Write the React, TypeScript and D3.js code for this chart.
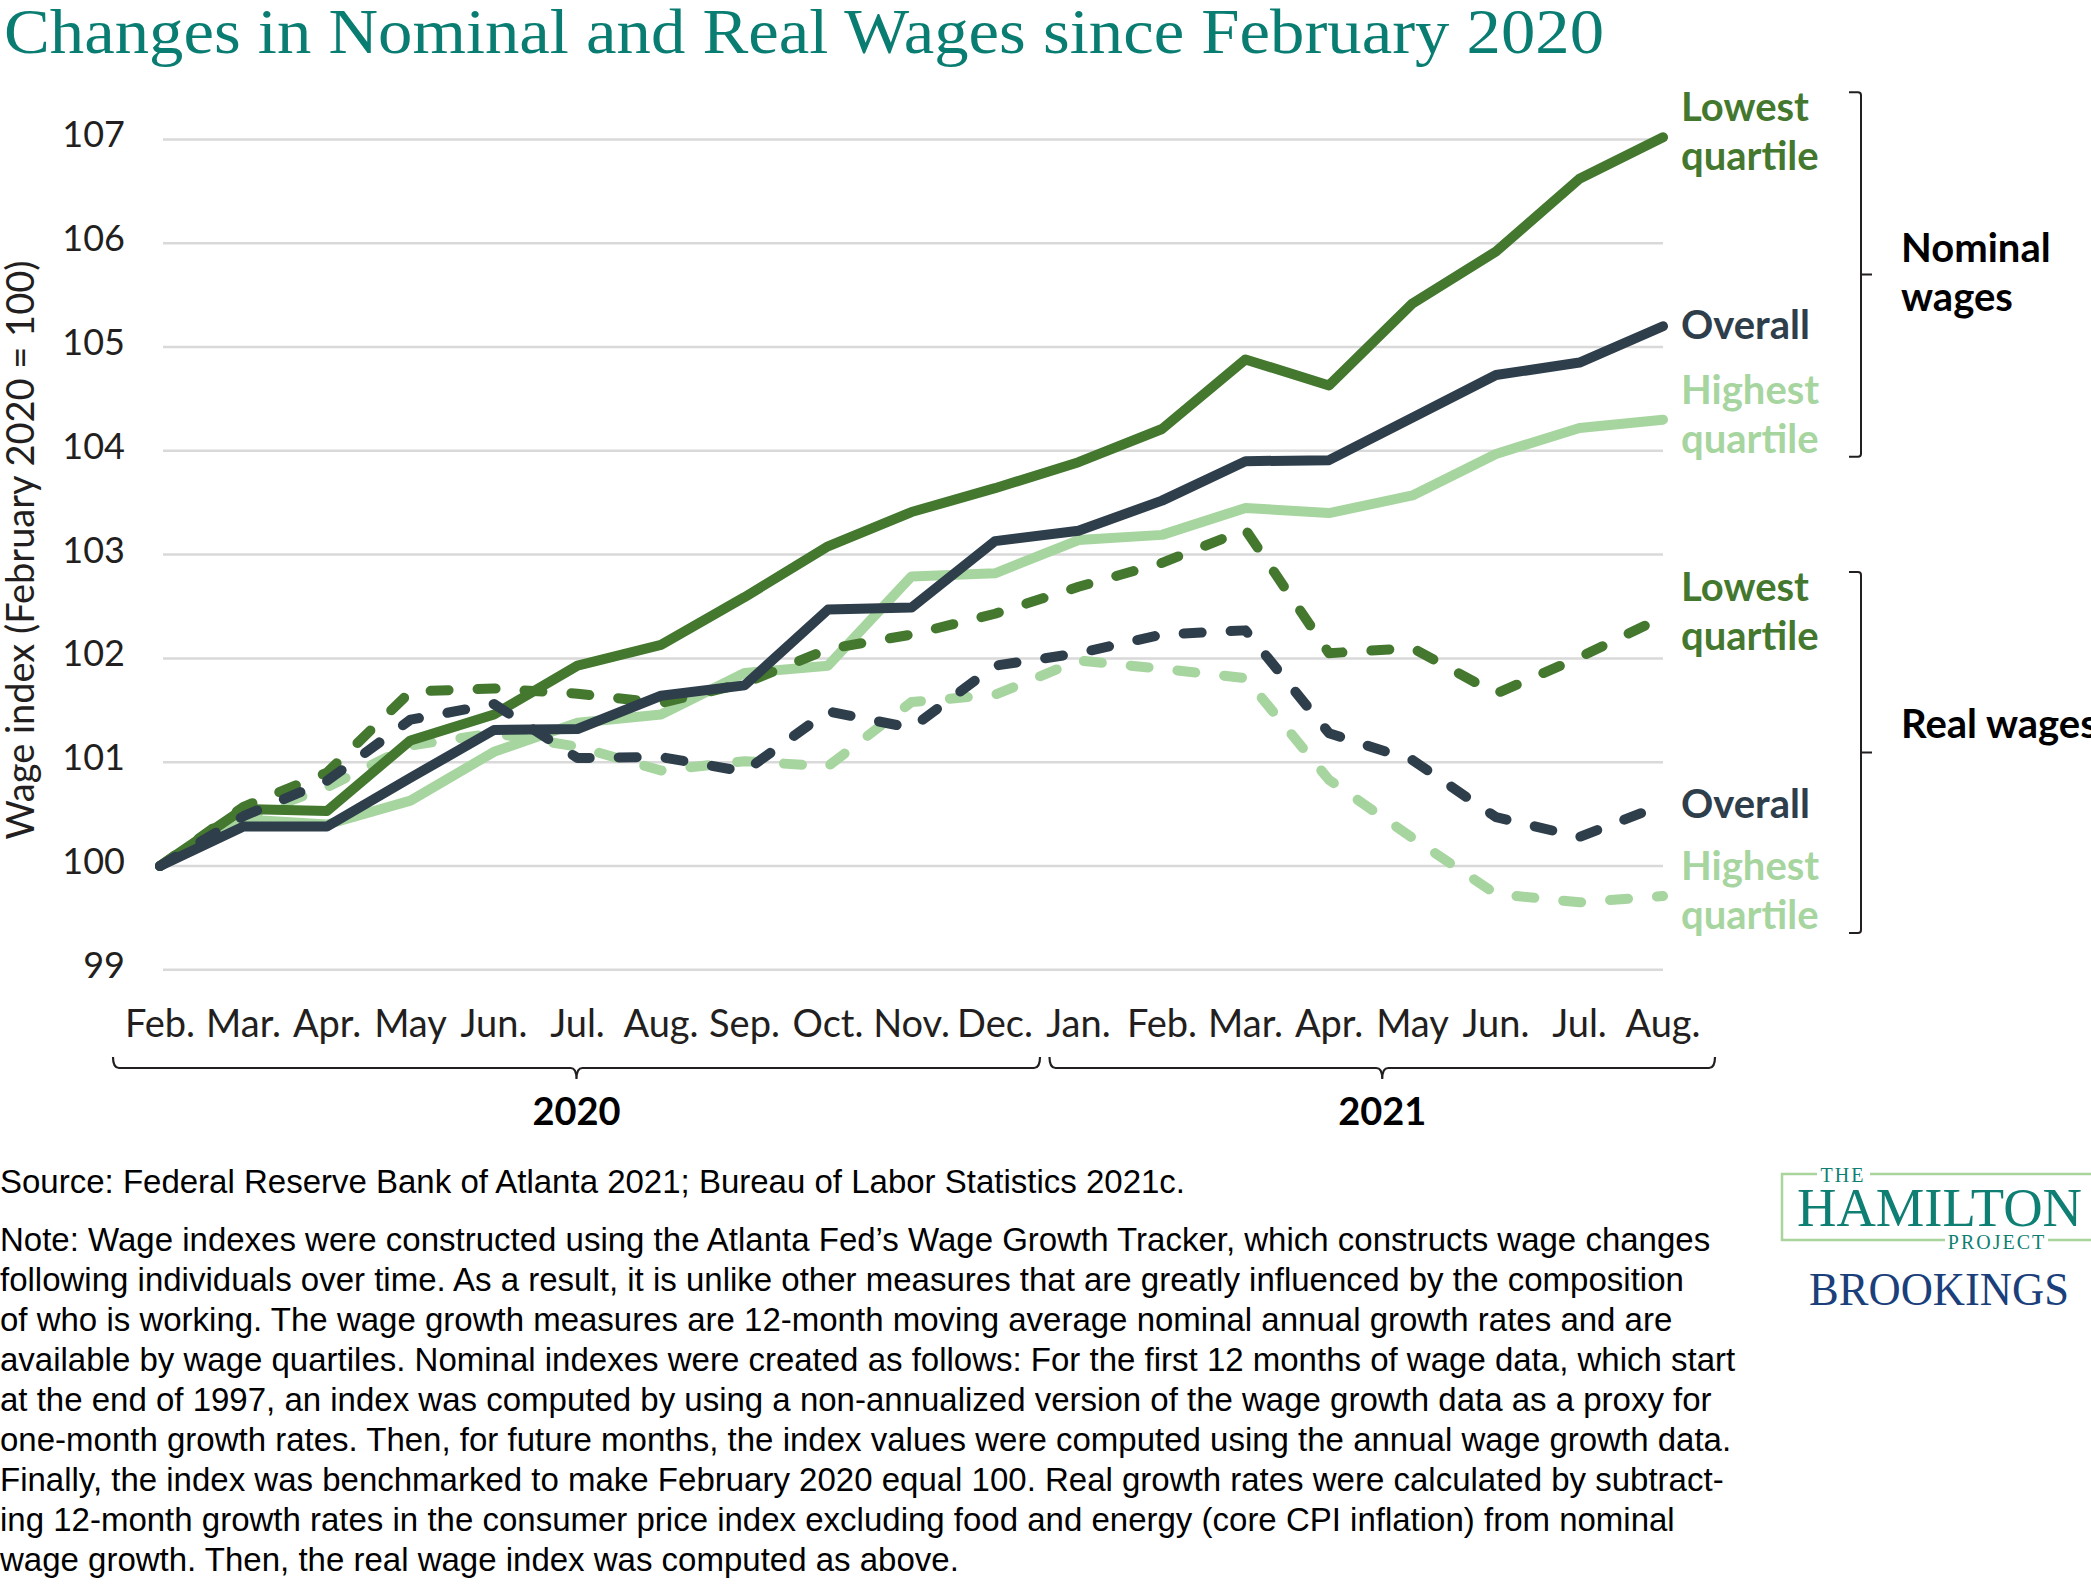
import React from 'react';
import * as d3 from 'd3';

const months = ["Feb.", "Mar.", "Apr.", "May", "Jun.", "Jul.", "Aug.", "Sep.", "Oct.", "Nov.", "Dec.", "Jan.", "Feb.", "Mar.", "Apr.", "May", "Jun.", "Jul.", "Aug."];
const yearGroups = [
  { label: "2020", from: 0, to: 10 },
  { label: "2021", from: 11, to: 18 },
];
const yTicks = [99, 100, 101, 102, 103, 104, 105, 106, 107];

const nominalLowest = [100, 100.55, 100.53, 101.21, 101.46, 101.93, 102.13, 102.59, 103.08, 103.41, 103.64, 103.89, 104.21, 104.88, 104.63, 105.42, 105.92, 106.62, 107.02];
const nominalOverall = [100, 100.38, 100.38, 100.85, 101.31, 101.32, 101.64, 101.74, 102.47, 102.49, 103.13, 103.23, 103.52, 103.90, 103.91, 104.32, 104.73, 104.85, 105.20];
const nominalHighest = [100, 100.45, 100.40, 100.63, 101.10, 101.38, 101.46, 101.86, 101.93, 102.79, 102.82, 103.14, 103.19, 103.45, 103.40, 103.57, 103.97, 104.22, 104.30];
const realLowest = [100, 100.57, 100.90, 101.68, 101.71, 101.66, 101.57, 101.76, 102.09, 102.23, 102.43, 102.69, 102.92, 103.24, 102.05, 102.10, 101.66, 102.01, 102.40];
const realOverall = [100, 100.48, 100.82, 101.41, 101.56, 101.04, 101.05, 100.91, 101.49, 101.33, 101.93, 102.05, 102.23, 102.27, 101.28, 101.02, 100.47, 100.28, 100.59];
const realHighest = [100, 100.46, 100.76, 101.16, 101.28, 101.15, 100.92, 101.01, 100.96, 101.58, 101.65, 101.98, 101.90, 101.81, 100.83, 100.27, 99.73, 99.65, 99.71];

const DARK_GREEN = "#44782f";
const NAVY = "#2e3e4b";
const LIGHT_GREEN = "#a7d59f";

const series = [
  { key: "rh", values: realHighest, color: LIGHT_GREEN, dashed: true, label: ["Highest", "quartile"] },
  { key: "nh", values: nominalHighest, color: LIGHT_GREEN, dashed: false, label: ["Highest", "quartile"] },
  { key: "rl", values: realLowest, color: DARK_GREEN, dashed: true, label: ["Lowest", "quartile"] },
  { key: "nl", values: nominalLowest, color: DARK_GREEN, dashed: false, label: ["Lowest", "quartile"] },
  { key: "ro", values: realOverall, color: NAVY, dashed: true, label: ["Overall"] },
  { key: "no", values: nominalOverall, color: NAVY, dashed: false, label: ["Overall"] },
];

const groups = [
  { label: ["Nominal", "wages"], keys: ["nl", "no", "nh"] },
  { label: ["Real wages"], keys: ["rl", "ro", "rh"] },
];

const noteLines = [
  "Note: Wage indexes were constructed using the Atlanta Fed’s Wage Growth Tracker, which constructs wage changes",
  "following individuals over time. As a result, it is unlike other measures that are greatly influenced by the composition",
  "of who is working. The wage growth measures are 12-month moving average nominal annual growth rates and are",
  "available by wage quartiles. Nominal indexes were created as follows: For the first 12 months of wage data, which start",
  "at the end of 1997, an index was computed by using a non-annualized version of the wage growth data as a proxy for",
  "one-month growth rates. Then, for future months, the index values were computed using the annual wage growth data.",
  "Finally, the index was benchmarked to make February 2020 equal 100. Real growth rates were calculated by subtract-",
  "ing 12-month growth rates in the consumer price index excluding food and energy (core CPI inflation) from nominal",
  "wage growth. Then, the real wage index was computed as above.",
];

const W = 2091;
const H = 1587;
const SANS = "Lato, 'Open Sans', sans-serif";
const NOTE_FONT = "'Liberation Sans', Arial, sans-serif";

export default function App() {
  const x = d3.scaleLinear().domain([0, months.length - 1]).range([160, 1663]);
  const y = d3.scaleLinear().domain([100, 107]).range([866, 139.4]);
  const line = d3.line<number>().x((_, i) => x(i)).y((d) => y(d));

  const labelPos: Record<string, number[]> = {};
  series.forEach((s) => {
    const ye = y(s.values[s.values.length - 1]);
    labelPos[s.key] = s.label.length === 2 ? [ye - 16, ye + 33] : [ye + 13];
  });

  const bracePath = (x0: number, x1: number, yTop: number, yLine: number, yTip: number) => {
    const c = (x0 + x1) / 2;
    return `M${x0},${yTop} Q${x0},${yLine} ${x0 + 6},${yLine} L${c - 6},${yLine} Q${c},${yLine} ${c},${yTip} Q${c},${yLine} ${c + 6},${yLine} L${x1 - 6},${yLine} Q${x1},${yLine} ${x1},${yTop}`;
  };

  return (
    <svg width={W} height={H} style={{ position: "absolute", left: 0, top: 0, background: "#fff" }}>
      <rect x={0} y={0} width={W} height={H} fill="#fff" />
      <text x={4} y={53} fontFamily="'Liberation Serif', serif" fontSize={64} fill="#0a7d72" textLength={1600} lengthAdjust="spacingAndGlyphs">
        Changes in Nominal and Real Wages since February 2020
      </text>

      {/* gridlines & y ticks */}
      {yTicks.map((t) => (
        <g key={t}>
          <line x1={163} x2={1663} y1={y(t)} y2={y(t)} stroke="#d9d9d9" strokeWidth={2.5} />
          <text x={125} y={y(t) + 8} textAnchor="end" fontFamily={SANS} fontSize={36} fill="#231f20">
            {t}
          </text>
        </g>
      ))}

      <text transform={`translate(34,550) rotate(-90)`} textAnchor="middle" fontFamily={SANS} fontSize={38} fill="#231f20">
        Wage index (February 2020 = 100)
      </text>

      {/* lines */}
      {series.map((s) => (
        <path
          key={s.key}
          d={line(s.values) || ""}
          fill="none"
          stroke={s.color}
          strokeWidth={10}
          strokeLinecap="round"
          strokeLinejoin="round"
          strokeDasharray={s.dashed ? "18 29" : undefined}
        />
      ))}

      {/* series labels */}
      {series.map((s) =>
        s.label.map((l, j) => (
          <text key={s.key + j} x={1681} y={labelPos[s.key][j]} fontFamily={SANS} fontWeight={700} fontSize={40} fill={s.color}>
            {l}
          </text>
        ))
      )}

      {/* group brackets */}
      {groups.map((g, gi) => {
        const firstKey = g.keys[0];
        const lastKey = g.keys[g.keys.length - 1];
        const top = labelPos[firstKey][0] - 29;
        const lp = labelPos[lastKey];
        const bottom = lp[lp.length - 1] + 4;
        const mid = (top + bottom) / 2;
        return (
          <g key={gi}>
            <path
              d={`M1849,${top} L1858,${top} Q1861,${top} 1861,${top + 3} L1861,${bottom - 3} Q1861,${bottom} 1858,${bottom} L1849,${bottom} M1861,${mid} L1872,${mid}`}
              fill="none"
              stroke="#231f20"
              strokeWidth={2}
            />
            {g.label.map((l, j) => (
              <text key={j} x={1901} y={mid - 12 + j * 49 - (g.label.length === 2 ? 0 : 2)} fontFamily={SANS} fontWeight={700} fontSize={40} fill="#000">
                {l}
              </text>
            ))}
          </g>
        );
      })}

      {/* month labels */}
      {months.map((m, i) => (
        <text key={i} x={x(i)} y={1037} textAnchor="middle" fontFamily={SANS} fontSize={38} fill="#231f20">
          {m}
        </text>
      ))}

      {/* year braces */}
      {yearGroups.map((g, gi) => {
        const x0 = gi === 0 ? x(g.from) - 47 : x(g.from) - 29;
        const x1 = gi === 0 ? x(g.to) + 45 : x(g.to) + 52;
        return (
          <g key={g.label}>
            <path d={bracePath(x0, x1, 1057, 1068, 1079)} fill="none" stroke="#231f20" strokeWidth={2.2} />
            <text x={(x0 + x1) / 2} y={1125} textAnchor="middle" fontFamily={SANS} fontWeight={700} fontSize={38} fill="#000">
              {g.label}
            </text>
          </g>
        );
      })}

      {/* source & note */}
      <text x={0} y={1193} fontFamily={NOTE_FONT} fontSize={33} fill="#000">
        Source: Federal Reserve Bank of Atlanta 2021; Bureau of Labor Statistics 2021c.
      </text>
      {noteLines.map((l, i) => (
        <text key={i} x={0} y={1251 + i * 40} fontFamily={NOTE_FONT} fontSize={33} fill="#000">
          {l}
        </text>
      ))}

      {/* logo */}
      <g>
        <path d="M1817,1174 L1782,1174 L1782,1240 L1945,1240 M1870,1174 L2091,1174 M2048,1240 L2091,1240" fill="none" stroke="#a9d49b" strokeWidth={2.5} />
        <text x={1843} y={1182} textAnchor="middle" fontFamily="'Liberation Serif', serif" fontSize={20} letterSpacing={2} fill="#0f7f74">THE</text>
        <text x={1797} y={1226} fontFamily="'Liberation Serif', serif" fontSize={54} fill="#0f7f74" textLength={285} lengthAdjust="spacingAndGlyphs">HAMILTON</text>
        <text x={1997} y={1249} textAnchor="middle" fontFamily="'Liberation Serif', serif" fontSize={20} letterSpacing={2} fill="#0f7f74">PROJECT</text>
        <text x={1809} y={1305} fontFamily="'Liberation Serif', serif" fontSize={46} fill="#1b3f7a" textLength={260} lengthAdjust="spacingAndGlyphs">BROOKINGS</text>
      </g>
    </svg>
  );
}
